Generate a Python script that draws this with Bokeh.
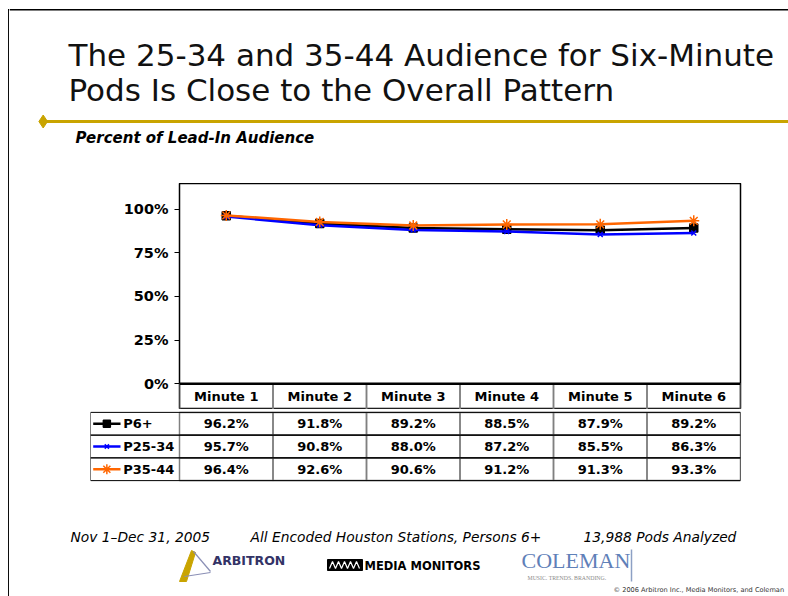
import numpy as np
from bokeh.plotting import figure
from bokeh.models import Range1d, FactorRange, FixedTicker, PrintfTickFormatter, Span, ColumnDataSource
from bokeh.layouts import column, row
from bokeh.core.properties import value
from bokeh.embed import file_html
from bokeh.resources import INLINE

# ---------------- data ----------------
categories = ["Minute 1", "Minute 2", "Minute 3", "Minute 4", "Minute 5", "Minute 6"]
series_names = ["P6+", "P25-34", "P35-44"]
p6_plus = [96.2, 91.8, 89.2, 88.5, 87.9, 89.2]
p25_34 = [95.7, 90.8, 88.0, 87.2, 85.5, 86.3]
p35_44 = [96.4, 92.6, 90.6, 91.2, 91.3, 93.3]
y_ticks = [0, 25, 50, 75, 100]

title_lines = ["The 25-34 and 35-44 Audience for Six-Minute",
               "Pods Is Close to the Overall Pattern"]
subtitle = "Percent of Lead-In Audience"
footer_texts = ["Nov 1\u2013Dec 31, 2005",
                "All Encoded Houston Stations, Persons 6+",
                "13,988 Pods Analyzed"]
copyright_text = "\u00a9 2006 Arbitron Inc., Media Monitors, and Coleman"

# ---------------- styling ----------------
X0 = 9            # left strip width (page px)
W = 788 - X0      # width of the main column
FONT = value("DejaVu Sans")
series_values = [p6_plus, p25_34, p35_44]
series_colors = ["#000000", "#0000FF", "#FF6600"]
series_markers = ["square", "x", "asterisk"]
marker_sizes = [8, 7, 11]
GOLD = "#C9A400"


def blank(w, h, **kw):
    p = figure(width=w, height=h, output_backend="svg", toolbar_location=None,
               tools="", x_axis_location=None, y_axis_location=None, **kw)
    p.min_border_left = p.min_border_right = 0
    p.min_border_top = p.min_border_bottom = 0
    p.outline_line_color = None
    p.grid.visible = False
    p.background_fill_color = "white"
    p.border_fill_color = "white"
    p.frame_align = False
    return p


# ---------------- slide border strip ----------------
L = blank(X0, 596, x_range=Range1d(0, X0), y_range=Range1d(596, 0))
L.segment(x0=[8.3], y0=[8.6], x1=[8.3], y1=[596], line_color="black", line_width=1.5)
L.segment(x0=[7.5], y0=[9.3], x1=[X0], y1=[9.3], line_color="black", line_width=1.5)

# ---------------- top: title ----------------
T = blank(W, 183, x_range=Range1d(X0, 788), y_range=Range1d(183, 0))
T.segment(x0=[X0], y0=[9.3], x1=[788], y1=[9.3], line_color="black", line_width=1.5)
T.text(x=[68, 68], y=[54.5, 89.5], text=title_lines, text_font=FONT,
       text_font_size="31px", text_baseline="middle", text_color="#111111")
T.segment(x0=[42], y0=[121], x1=[788], y1=[121], line_color=GOLD, line_width=3)
T.scatter(x=[42.7], y=[121], marker="diamond", size=13, color=GOLD)
T.text(x=[75], y=[137.3], text=[subtitle], text_font=FONT, text_font_size="15px",
       text_font_style="bold italic", text_baseline="middle", text_color="black")

# ---------------- chart ----------------
A = figure(width=W, height=226, x_range=FactorRange(*categories),
           y_range=Range1d(-14.7, 114.65), x_axis_location=None,
           output_backend="svg", toolbar_location=None, tools="")
A.frame_align = False
A.min_border_left = 179 - X0
A.min_border_right = 48
A.min_border_top = 0
A.min_border_bottom = 0
A.outline_line_color = "black"
A.outline_line_width = 1.5
A.grid.visible = False
A.background_fill_color = "white"
A.border_fill_color = "white"
ya = A.yaxis[0]
ya.ticker = FixedTicker(ticks=y_ticks)
ya.formatter = PrintfTickFormatter(format="%d%%")
ya.axis_line_color = None
ya.major_tick_out = 5
ya.major_tick_in = 0
ya.major_tick_line_color = "black"
ya.minor_tick_line_color = None
ya.major_label_text_font = "DejaVu Sans"
ya.major_label_text_font_size = "14.5px"
ya.major_label_text_font_style = "bold"
ya.major_label_text_color = "black"
ya.major_label_standoff = 6

# header row (category labels) under the 0% line
A.rect(x=categories, y=-7.35, width=1, height=14.7, fill_color=None,
       line_color="#808080", line_width=1.5)
A.text(x=categories, y=-7.35, text=categories, text_font=FONT, text_font_size="13px",
       text_font_style="bold", text_align="center", text_baseline="middle",
       text_color="black")
A.add_layout(Span(location=0, dimension="width", line_color="black", line_width=2.5))

for vals, col, mk, ms in zip(series_values, series_colors, series_markers, marker_sizes):
    A.line(x=categories, y=vals, line_color=col, line_width=2.5)
    A.scatter(x=categories, y=vals, marker=mk, size=ms, line_color=col,
              fill_color=col, line_width=1.5)

# ---------------- data table ----------------
col_w = (W - (179 - X0) - 48) / len(categories)
x_start = -(179 - 90) / col_w
rows = list(reversed(series_names))
B = figure(width=W, height=74, x_range=Range1d(x_start, len(categories)),
           y_range=FactorRange(*rows, range_padding=0.127, range_padding_units="absolute"),
           x_axis_location=None, y_axis_location=None,
           output_backend="svg", toolbar_location=None, tools="")
B.frame_align = False
B.min_border_left = 90 - X0
B.min_border_right = 48
B.min_border_top = 0
B.min_border_bottom = 0
B.outline_line_color = None
B.grid.visible = False
B.background_fill_color = "white"
B.border_fill_color = "white"

cell_x, cell_y, cell_t = [], [], []
for name, vals in zip(series_names, series_values):
    for i, v in enumerate(vals):
        cell_x.append(i + 0.5)
        cell_y.append(name)
        cell_t.append(f"{v:.1f}%")
cells = ColumnDataSource(dict(x=cell_x, y=cell_y, t=cell_t))
B.rect(x="x", y="y", width=1, height=1, source=cells, fill_color=None,
       line_color="#808080", line_width=1.5)
B.rect(x=(x_start + len(categories)) / 2, y=series_names,
       width=len(categories) - x_start, height=1, fill_color=None,
       line_color="black", line_width=1)
B.text(x="x", y="y", text="t", source=cells, text_font=FONT, text_font_size="13px",
       text_font_style="bold", text_align="center", text_baseline="middle",
       text_color="black")

sw0 = x_start + 2.7 / col_w
sw1 = x_start + 30 / col_w
for name, col, mk, ms in zip(series_names, series_colors, series_markers, marker_sizes):
    B.segment(x0=[sw0], y0=[name], x1=[sw1], y1=[name], line_color=col, line_width=2.5)
    B.scatter(x=[(sw0 + sw1) / 2], y=[name], marker=mk, size=ms - 1,
              line_color=col, fill_color=col, line_width=1.5)
B.text(x=x_start + 32.7 / col_w, y=series_names, text=series_names, text_font=FONT,
       text_font_size="13px", text_font_style="bold", text_baseline="middle",
       text_color="black")

# ---------------- footer ----------------
C = blank(W, 113, x_range=Range1d(X0, 788), y_range=Range1d(596, 483))
C.text(x=[70, 250, 583], y=[536.7] * 3, text=footer_texts, text_font=FONT,
       text_font_size="13.8px", text_font_style="italic", text_baseline="middle",
       text_color="black")

# Arbitron logo
C.patch(x=[179, 186, 195, 191], y=[581, 581, 552, 550], color=GOLD)
C.multi_line(xs=[[193, 210], [184, 210]], ys=[[551, 571], [576, 572]],
             line_color="#8a8fb5", line_width=1.2)
C.text(x=[212], y=[559.5], text=["ARBITRON"], text_font=FONT, text_font_size="12.5px",
       text_font_style="bold", text_baseline="middle", text_color="#333366")

# Media Monitors logo
C.rect(x=[344.5], y=[564.5], width=35, height=11, color="black")
C.line(x=[329, 332, 335, 338, 341, 344, 347, 350, 353, 356, 359],
       y=[568, 561, 568, 561, 568, 561, 568, 561, 568, 561, 568],
       line_color="white", line_width=1.2)
C.text(x=[364], y=[565], text=["MEDIA MONITORS"], text_font=FONT,
       text_font_size="11.5px", text_font_style="bold", text_baseline="middle",
       text_color="black")

# Coleman logo
C.text(x=[521], y=[560], text=["COLEMAN"], text_font=value("Liberation Serif"),
       text_font_size="22px", text_baseline="middle", text_color="#5f80b8")
C.segment(x0=[631], y0=[549], x1=[631], y1=[581], line_color="#8da0c4",
          line_width=1.5)
C.text(x=[527], y=[577.5], text=["MUSIC. TRENDS. BRANDING."],
       text_font=value("Liberation Serif"), text_font_size="5.8px",
       text_baseline="middle", text_color="#8a8a8a")

C.text(x=[613], y=[589.5], text=[copyright_text], text_font=FONT,
       text_font_size="6.6px", text_baseline="middle", text_color="#333333")

for fig in (T, A, B, C):
    fig.frame_align = False

layout = row(L, column(T, A, B, C, spacing=0), spacing=0)
open("out.html", "w").write(file_html(layout, INLINE))
